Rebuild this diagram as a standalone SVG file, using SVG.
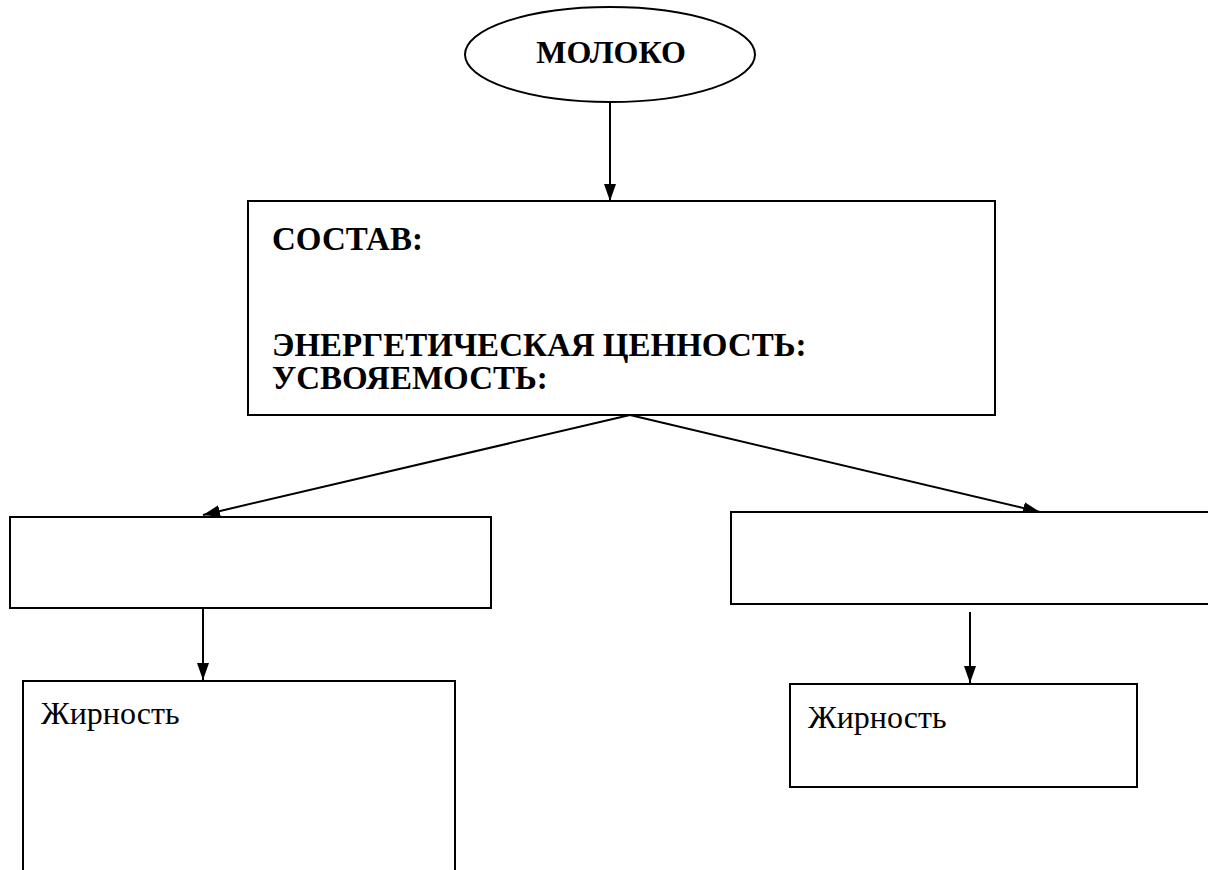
<svg xmlns="http://www.w3.org/2000/svg" width="1208" height="870" viewBox="0 0 1208 870">
  <style>
    .shape { fill: #ffffff; stroke: #000000; stroke-width: 2; }
    .conn { fill: none; stroke: #000000; stroke-width: 2; marker-end: url(#arrow); }
    .bold { font-family: "Liberation Serif", "Times New Roman", serif; font-weight: bold; font-size: 33px; fill: #000000; }
    .title { font-size: 32px; }
    .plain { font-family: "Liberation Serif", "Times New Roman", serif; font-size: 32px; fill: #000000; }
  </style>
  <defs>
    <marker id="arrow" viewBox="0 0 17 12" refX="17" refY="6" markerWidth="17" markerHeight="12" markerUnits="userSpaceOnUse" orient="auto">
      <path d="M0,0 L17,6 L0,12 z" fill="#000000"/>
    </marker>
  </defs>

  <rect x="0" y="0" width="1208" height="870" fill="#ffffff"/>

  <!-- connectors -->
  <g id="connectors">
    <line class="conn" x1="610" y1="102" x2="610" y2="201"/>
    <line class="conn" x1="630" y1="415" x2="203" y2="515"/>
    <line class="conn" x1="630" y1="415" x2="1040" y2="512"/>
    <line class="conn" x1="203" y1="608" x2="203" y2="680"/>
    <line class="conn" x1="970" y1="612" x2="970" y2="683"/>
  </g>

  <!-- root: milk -->
  <g id="node-milk">
    <ellipse class="shape" cx="610" cy="54.5" rx="145" ry="47.5"/>
    <text class="bold title" x="611" y="63" text-anchor="middle">МОЛОКО</text>
  </g>

  <!-- composition / energy value / digestibility -->
  <g id="node-composition">
    <rect class="shape" x="248" y="201" width="747" height="214"/>
    <text class="bold" x="272" y="250">СОСТАВ:</text>
    <text class="bold" x="272" y="356">ЭНЕРГЕТИЧЕСКАЯ ЦЕННОСТЬ:</text>
    <text class="bold" x="272" y="389">УСВОЯЕМОСТЬ:</text>
  </g>

  <!-- left branch -->
  <g id="node-left">
    <rect class="shape" x="10" y="517" width="481" height="91"/>
  </g>

  <!-- right branch -->
  <g id="node-right">
    <rect class="shape" x="731" y="512" width="490" height="92"/>
  </g>

  <!-- left fat content -->
  <g id="node-left-fat">
    <rect class="shape" x="23" y="681" width="432" height="210"/>
    <text class="plain" x="41" y="724">Жирность</text>
  </g>

  <!-- right fat content -->
  <g id="node-right-fat">
    <rect class="shape" x="790" y="684" width="347" height="103"/>
    <text class="plain" x="808" y="728">Жирность</text>
  </g>
</svg>
